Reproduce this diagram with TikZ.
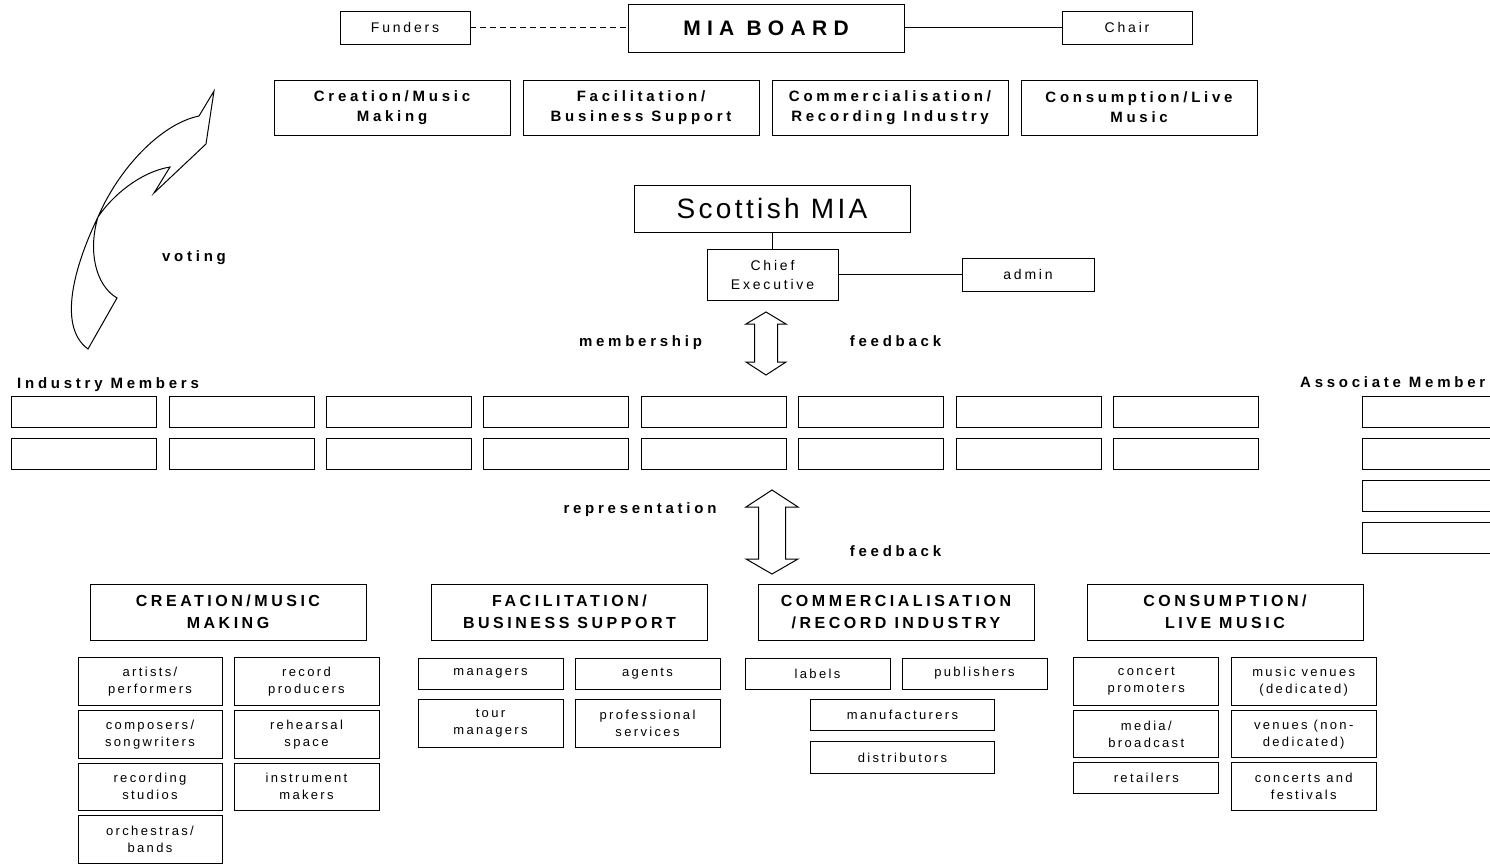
\documentclass[tikz,border=0pt]{standalone}
\usepackage{fontspec}
\setmainfont{Liberation Sans}
\newfontfamily\fItem[LetterSpace=18]{Liberation Sans}
\newfontfamily\fLab[LetterSpace=20]{Liberation Sans}
\newfontfamily\fBold[LetterSpace=25]{Liberation Sans}
\newfontfamily\fHead[LetterSpace=22]{Liberation Sans}
\newfontfamily\fBoard[LetterSpace=30]{Liberation Sans}
\newfontfamily\fTitle[LetterSpace=12]{Liberation Sans}
\tikzset{
  box/.style={draw, line width=1pt, inner sep=0pt, outer sep=0pt, align=center},
  item/.style={box, font=\fItem\fontsize{13}{17}\selectfont},
  lab/.style={box, font=\fLab\fontsize{14}{19}\selectfont},
  cat/.style={box, font=\fBold\bfseries\fontsize{15}{20}\selectfont, minimum width=236, minimum height=55},
  hdr/.style={box, font=\fHead\bfseries\fontsize{16}{21.7}\selectfont, minimum width=276, minimum height=56},
  mbox/.style={box, minimum width=145, minimum height=31},
  blab/.style={inner sep=0pt, font=\fBold\bfseries\fontsize{15}{18}\selectfont},
  link/.style={line width=1pt},
  blockarrow/.style={line width=1pt, line join=miter}
}
\begin{document}
\begin{tikzpicture}[x=1pt,y=-1pt]
\path[use as bounding box] (0,0) rectangle (1490,865);
\begin{scope}
\clip (0,0) rectangle (1490,865);
% top
\node[lab, minimum width=130, minimum height=33] (funders) at (405,27.5) {Funders};
\node[box, minimum width=276, minimum height=48, font=\fBoard\bfseries\fontsize{21}{24}\selectfont] (board) at (766,28) {MIA BOARD};
\node[lab, minimum width=130, minimum height=33] (chair) at (1127,27.5) {Chair};
\draw[link, dash pattern=on 6pt off 4pt] (funders.east) -- (funders.east -| board.west);
\draw[link] (board.east |- chair.west) -- (chair.west);
% level 2
\node[cat] (c1) at (392,107.5) {Creation/Music\\Making};
\node[cat] (c2) at (641,107.5) {Facilitation/\\Business Support};
\node[cat] (c3) at (890,107.5) {Commercialisation/\\Recording Industry};
\node[cat] (c4) at (1139,107.5) {Consumption/Live\\Music};
% voting arrow
\draw[blockarrow] (214,91) -- (199,116)
  .. controls (160,124) and (118,170) .. (98,217)
  .. controls (78,258) and (55,325) .. (88,349)
  -- (117,298)
  .. controls (95,285) and (88,250) .. (98,217)
  .. controls (112,196) and (140,172) .. (170,167)
  -- (154,193) -- (206,144) -- cycle;
\node[blab, anchor=base] (vote) at (194,261.7) {voting};
% Scottish MIA
\node[box, minimum width=276, minimum height=47, font=\fTitle\fontsize{28}{32}\selectfont] (smia) at (772,208.5) {Scottish MIA};
\node[lab, minimum width=131, minimum height=51] (ceo) at (772.5,274.5) {Chief\\Executive};
\node[lab, minimum width=132, minimum height=33] (admin) at (1028,274.5) {admin};
\draw[link] (smia.south) -- (smia.south |- ceo.north);
\draw[link] (ceo.east) -- (admin.west);
% arrow 1
\draw[blockarrow] (766,312) -- (786,324) -- (777.5,324) -- (777.5,362) -- (786,362) -- (766,375)
  -- (746,362) -- (754.5,362) -- (754.5,324) -- (746,324) -- cycle;
\node[blab, anchor=base] (memb) at (640.5,346.7) {membership};
\node[blab, anchor=base] (fb1) at (895.5,346.7) {feedback};
% members
\node[blab, anchor=base west] (indlab) at (17,388) {Industry Members};
\foreach \i in {0,...,7} {
  \node[mbox] (ima\i) at ({84.2+157.4*\i},411.5) {};
  \node[mbox] (imb\i) at ({84.2+157.4*\i},453.5) {};
}
\node[blab, anchor=base west] (asslab) at (1300,387) {Associate Member};
\foreach \j/\yy in {1/411.5,2/453.5,3/495.5,4/537.5} {
  \node[mbox] (as\j) at (1434.5,\yy) {};
}
% arrow 2
\draw[blockarrow] (772,490) -- (798,507) -- (785.5,507) -- (785.5,559) -- (798,559) -- (772,574)
  -- (746,559) -- (758.5,559) -- (758.5,507) -- (746,507) -- cycle;
\node[blab, anchor=base] (rep) at (640,513.3) {representation};
\node[blab, anchor=base] (fb2) at (895.5,556) {feedback};
% headers
\node[hdr] (h1) at (228,612) {CREATION/MUSIC\\MAKING};
\node[hdr] (h2) at (569.5,612) {FACILITATION/\\BUSINESS SUPPORT};
\node[hdr] (h3) at (896,612) {COMMERCIALISATION\\/RECORD INDUSTRY};
\node[hdr] (h4) at (1225,612) {CONSUMPTION/\\LIVE MUSIC};
% creation items
\node[item, minimum width=144, minimum height=47.5] (a1) at (150,681.5) {artists/\\performers};
\node[item, minimum width=144, minimum height=47.5] (a2) at (150,734.25) {composers/\\songwriters};
\node[item, minimum width=144, minimum height=47.5] (a3) at (150,786.75) {recording\\studios};
\node[item, minimum width=144, minimum height=47.5] (a4) at (150,839.25) {orchestras/\\bands};
\node[item, minimum width=145, minimum height=47.5] (a5) at (306.5,681.5) {record\\producers};
\node[item, minimum width=145, minimum height=47.5] (a6) at (306.5,734.25) {rehearsal\\space};
\node[item, minimum width=145, minimum height=47.5] (a7) at (306.5,786.75) {instrument\\makers};
% facilitation items
\node[item, minimum width=145, minimum height=31] (b1) at (490.5,673.5) {managers};
\node[item, minimum width=145, minimum height=31] (b2) at (647.5,673.5) {agents};
\node[item, minimum width=145, minimum height=48] (b3) at (490.5,723.5) {tour\\managers};
\node[item, minimum width=145, minimum height=48] (b4) at (647.5,723.5) {professional\\services};
% commercialisation items
\node[item, minimum width=145, minimum height=31] (d1) at (817.5,673.5) {labels};
\node[item, minimum width=145, minimum height=31] (d2) at (974.5,673.5) {publishers};
\node[item, minimum width=184, minimum height=31.5] (d3) at (902.5,715) {manufacturers};
\node[item, minimum width=184, minimum height=31.5] (d4) at (902.5,757.5) {distributors};
% consumption items
\node[item, minimum width=144.7, minimum height=47.5] (e1) at (1146.3,681.5) {concert\\promoters};
\node[item, minimum width=144.7, minimum height=47.5] (e2) at (1146.3,734.2) {media/\\broadcast};
\node[item, minimum width=144.7, minimum height=30.6] (e3) at (1146.3,778) {retailers};
\node[item, minimum width=144.7, minimum height=47.5] (e4) at (1303.7,681.5) {music venues\\(dedicated)};
\node[item, minimum width=144.7, minimum height=47.5] (e5) at (1303.7,734.2) {venues (non-\\dedicated)};
\node[item, minimum width=144.7, minimum height=48] (e6) at (1303.7,786.7) {concerts and\\festivals};
\end{scope}
\end{tikzpicture}
\end{document}
